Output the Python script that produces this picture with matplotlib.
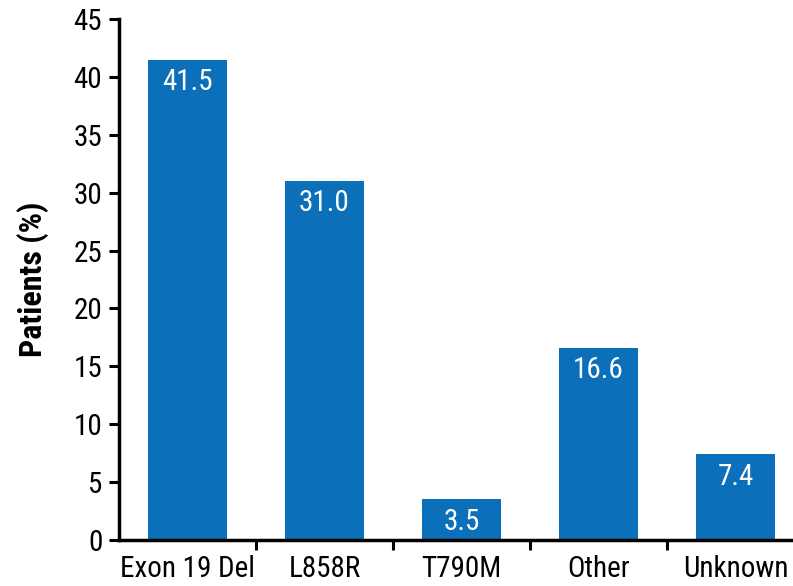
import matplotlib
matplotlib.use("Agg")
import matplotlib.pyplot as plt
from matplotlib import font_manager

# EGFR mutation types
categories = ["Exon 19 Del", "L858R", "T790M", "Other", "Unknown"]
patients_pct = [41.5, 31.0, 3.5, 16.6, 7.4]
y_ticks = [0, 5, 10, 15, 20, 25, 30, 35, 40, 45]

BAR_COLOR = "#0b6fba"

# prefer a narrow face if one is installed
installed = {f.name for f in font_manager.fontManager.ttflist}
family = "DejaVu Sans"
for name in ["Liberation Sans Narrow", "Roboto Condensed", "DejaVu Sans Condensed",
             "Open Sans Condensed", "Liberation Sans"]:
    if name in installed:
        family = name
        break
plt.rcParams["font.family"] = family

fig = plt.figure(figsize=(7.93, 5.86), dpi=100)
ax = fig.add_axes([0.150, 0.0785, 0.85, 0.889])

x = range(len(categories))
bars = ax.bar(x, patients_pct, width=0.58, color=BAR_COLOR, zorder=2)
for bar, v in zip(bars, patients_pct):
    ax.annotate(f"{v:.1f}", (bar.get_x() + bar.get_width() / 2, v),
                xytext=(0, -6), textcoords="offset points",
                ha="center", va="top", color="white", fontsize=21)

ax.set_ylim(0, 45)
ax.set_yticks(y_ticks)
ax.set_xlim(-0.5, 4.42)
ax.set_xticks([i + 0.5 for i in range(len(categories) - 1)])
ax.set_xticklabels([])
ax.set_xticks(list(x), minor=True)
ax.set_xticklabels(categories, minor=True)
ax.tick_params(axis="x", which="minor", length=0, pad=11, labelsize=21)
ax.tick_params(axis="x", which="major", length=7, width=2.2, direction="out")
ax.tick_params(axis="y", length=7, width=2.2, direction="out", labelsize=21, pad=5)

for side in ["top", "right"]:
    ax.spines[side].set_visible(False)
for side in ["left", "bottom"]:
    ax.spines[side].set_linewidth(2.5)

ax.set_ylabel("Patients (%)", fontsize=23, fontweight="bold", labelpad=18)

fig.savefig("out.png", dpi=100)
